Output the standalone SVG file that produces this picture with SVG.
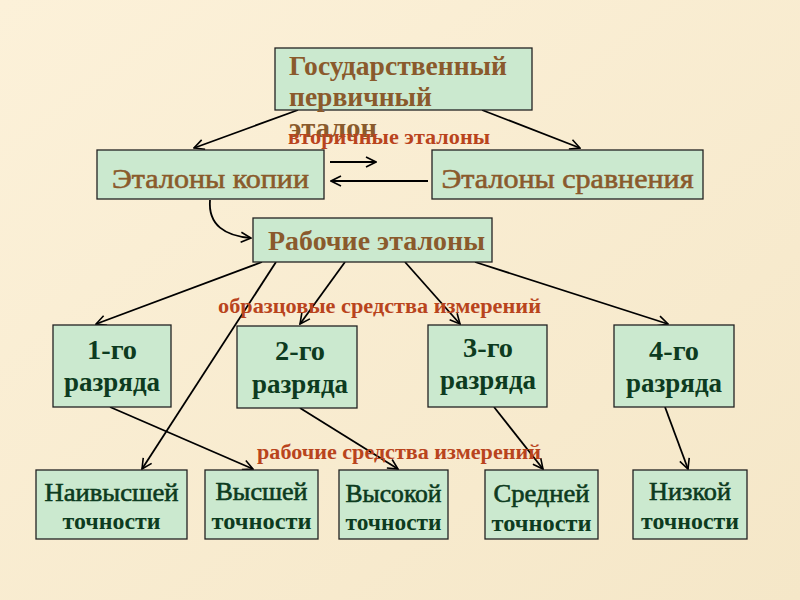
<svg xmlns="http://www.w3.org/2000/svg" width="800" height="600" viewBox="0 0 800 600">
<defs>
<marker id="ah" viewBox="0 0 12 12" refX="11" refY="6" markerWidth="12" markerHeight="12" markerUnits="userSpaceOnUse" orient="auto">
<polyline points="1,1 11,6 1,11" fill="none" stroke="#000" stroke-width="1.6"/>
</marker>
<linearGradient id="bg" x1="0" y1="0" x2="1" y2="1">
<stop offset="0" stop-color="#fcf1d9"/>
<stop offset="1" stop-color="#f5e7c8"/>
</linearGradient>
</defs>
<style>
.box{fill:#cbe9cf;stroke:#222;stroke-width:1.3}
.brown{font-family:"Liberation Serif","DejaVu Serif",serif;fill:#8a5a2c}
.green{font-family:"Liberation Serif","DejaVu Serif",serif;fill:#0d3b20}
.semi{stroke-width:0.6px}
.brown.semi{stroke:#8a5a2c}
.green.semi{stroke:#0d3b20}
.red{font-family:"Liberation Serif","DejaVu Serif",serif;fill:#b9441d;font-weight:bold;font-size:21px}
.c{stroke:#000;stroke-width:1.8;fill:none;marker-end:url(#ah)}
</style>
<rect width="800" height="600" fill="url(#bg)"/>

<g id="connectors">
<line class="c" x1="298" y1="110" x2="194" y2="148"/>
<line class="c" x1="482" y1="110" x2="580" y2="148"/>
<line class="c" x1="330" y1="162" x2="376" y2="162"/>
<line class="c" x1="428" y1="181" x2="331" y2="181"/>
<path class="c" d="M210,200 C208,225 225,236 251,238"/>
<line class="c" x1="262" y1="262" x2="96" y2="324"/>
<line class="c" x1="276" y1="262" x2="142" y2="469"/>
<line class="c" x1="345" y1="262" x2="300" y2="324"/>
<line class="c" x1="405" y1="262" x2="460" y2="324"/>
<line class="c" x1="475" y1="262" x2="668" y2="324"/>
<line class="c" x1="110" y1="407" x2="253" y2="469"/>
<line class="c" x1="300" y1="408" x2="398" y2="469"/>
<line class="c" x1="494" y1="407" x2="543" y2="469"/>
<line class="c" x1="665" y1="407" x2="688" y2="469"/>
</g>

<g id="gos">
<rect class="box" x="275" y="48" width="257" height="62"/>
<text class="brown" font-weight="bold" font-size="27" x="289" y="75" textLength="218" lengthAdjust="spacingAndGlyphs">Государственный</text>
<text class="brown" font-weight="bold" font-size="27" x="289" y="106" textLength="143" lengthAdjust="spacingAndGlyphs">первичный</text>
<text class="brown" font-weight="bold" font-size="27" x="289" y="137" textLength="88" lengthAdjust="spacingAndGlyphs">эталон</text>
</g>

<text class="red" x="288" y="144" textLength="202" lengthAdjust="spacingAndGlyphs">вторичные эталоны</text>

<g id="kopii">
<rect class="box" x="97" y="150" width="227" height="49"/>
<text class="brown semi" font-size="28" x="210.5" y="188" text-anchor="middle" textLength="197" lengthAdjust="spacingAndGlyphs">Эталоны копии</text>
</g>
<g id="sravn">
<rect class="box" x="432" y="150" width="271" height="49"/>
<text class="brown semi" font-size="28" x="567.5" y="188" text-anchor="middle" textLength="252" lengthAdjust="spacingAndGlyphs">Эталоны сравнения</text>
</g>

<g id="rabochie">
<rect class="box" x="253" y="218" width="239" height="44"/>
<text class="brown" font-weight="bold" font-size="27" x="268" y="250" textLength="217" lengthAdjust="spacingAndGlyphs">Рабочие эталоны</text>
</g>

<text class="red" x="218" y="313" textLength="323" lengthAdjust="spacingAndGlyphs">образцовые средства измерений</text>

<g id="r1">
<rect class="box" x="53" y="325" width="118" height="82"/>
<text class="green" font-weight="bold" font-size="27" x="112" y="359" text-anchor="middle" textLength="50" lengthAdjust="spacingAndGlyphs">1-го</text>
<text class="green" font-weight="bold" font-size="27" x="112" y="391" text-anchor="middle" textLength="96" lengthAdjust="spacingAndGlyphs">разряда</text>
</g>
<g id="r2">
<rect class="box" x="237" y="326" width="120" height="82"/>
<text class="green" font-weight="bold" font-size="27" x="300" y="360" text-anchor="middle" textLength="50" lengthAdjust="spacingAndGlyphs">2-го</text>
<text class="green" font-weight="bold" font-size="27" x="300" y="393" text-anchor="middle" textLength="96" lengthAdjust="spacingAndGlyphs">разряда</text>
</g>
<g id="r3">
<rect class="box" x="428" y="325" width="119" height="82"/>
<text class="green" font-weight="bold" font-size="27" x="488" y="357" text-anchor="middle" textLength="50" lengthAdjust="spacingAndGlyphs">3-го</text>
<text class="green" font-weight="bold" font-size="27" x="488" y="389" text-anchor="middle" textLength="96" lengthAdjust="spacingAndGlyphs">разряда</text>
</g>
<g id="r4">
<rect class="box" x="614" y="325" width="120" height="82"/>
<text class="green" font-weight="bold" font-size="27" x="674" y="360" text-anchor="middle" textLength="50" lengthAdjust="spacingAndGlyphs">4-го</text>
<text class="green" font-weight="bold" font-size="27" x="674" y="392" text-anchor="middle" textLength="96" lengthAdjust="spacingAndGlyphs">разряда</text>
</g>

<text class="red" x="257" y="459" textLength="284" lengthAdjust="spacingAndGlyphs">рабочие средства измерений</text>

<g id="t1">
<rect class="box" x="36" y="470" width="151" height="69"/>
<text class="green semi" font-size="25" x="111.5" y="501" text-anchor="middle" textLength="134" lengthAdjust="spacingAndGlyphs">Наивысшей</text>
<text class="green" font-weight="bold" font-size="23" x="111.5" y="529" text-anchor="middle" textLength="98" lengthAdjust="spacingAndGlyphs">точности</text>
</g>
<g id="t2">
<rect class="box" x="205" y="470" width="113" height="69"/>
<text class="green semi" font-size="25" x="261.5" y="500" text-anchor="middle" textLength="92" lengthAdjust="spacingAndGlyphs">Высшей</text>
<text class="green" font-weight="bold" font-size="23" x="261.5" y="529" text-anchor="middle" textLength="100" lengthAdjust="spacingAndGlyphs">точности</text>
</g>
<g id="t3">
<rect class="box" x="339" y="470" width="109" height="69"/>
<text class="green semi" font-size="25" x="393.5" y="502" text-anchor="middle" textLength="96" lengthAdjust="spacingAndGlyphs">Высокой</text>
<text class="green" font-weight="bold" font-size="23" x="393.5" y="530" text-anchor="middle" textLength="96" lengthAdjust="spacingAndGlyphs">точности</text>
</g>
<g id="t4">
<rect class="box" x="485" y="470" width="113" height="69"/>
<text class="green semi" font-size="25" x="541.5" y="502" text-anchor="middle" textLength="96" lengthAdjust="spacingAndGlyphs">Средней</text>
<text class="green" font-weight="bold" font-size="23" x="541.5" y="531" text-anchor="middle" textLength="100" lengthAdjust="spacingAndGlyphs">точности</text>
</g>
<g id="t5">
<rect class="box" x="633" y="470" width="114" height="69"/>
<text class="green semi" font-size="25" x="690" y="500" text-anchor="middle" textLength="82" lengthAdjust="spacingAndGlyphs">Низкой</text>
<text class="green" font-weight="bold" font-size="23" x="690" y="529" text-anchor="middle" textLength="98" lengthAdjust="spacingAndGlyphs">точности</text>
</g>
</svg>
